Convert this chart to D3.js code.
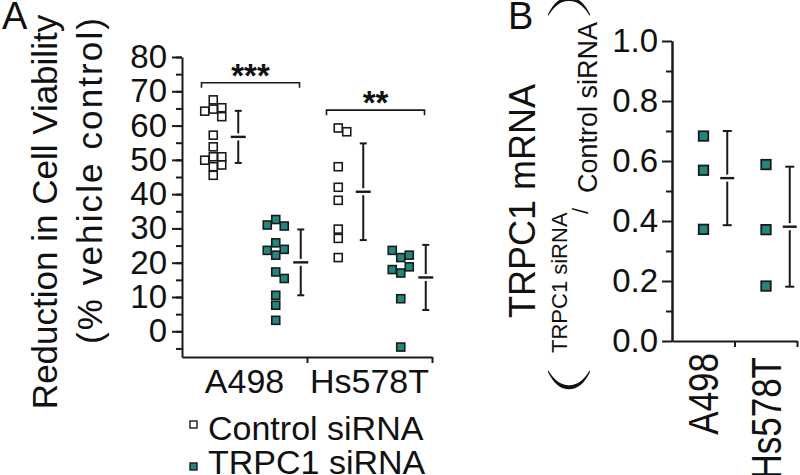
<!DOCTYPE html>
<html>
<head>
<meta charset="utf-8">
<script src="https://cdn.jsdelivr.net/npm/d3@7"></script>
<style>
body{margin:0;background:#fff}
svg{display:block;font-family:"Liberation Sans",Arial,sans-serif;fill:#111}
</style>
</head>
<body>
<script>
const cells=["A498","Hs578T"];
const groups=["Control siRNA","TRPC1 siRNA"];

// panel A: reduction in viability (% vehicle control), one value per replicate
const ctrlA498=[67.5,64.8,65.2,64.2,62.6,57.2,53.8,50.9,50.9,49.9,48.0,48.5,45.5];
const trpcA498=[32.6,30.7,31.0,25.8,23.9,23.6,22.2,17.3,15.4,10.5,7.6,3.2];
const ctrlHs=[59.3,58.2,48.0,42.0,38.2,29.8,27.1,21.5];
const trpcHs=[21.5,22.2,23.6,17.0,18.8,18.0,9.5,-4.6];
// mean and SD, per cell line
const meanCtrl=[56.7,40.7], sdCtrl=[7.6,14.1];
const meanTrpc=[20.1,15.7], sdTrpc=[9.6,9.5];
const stars=["***","**"], starLevel=[72.5,64.5];

// panel B: TRPC1 mRNA ratio
const mrnaA498=[0.684,0.570,0.373];
const mrnaHs=[0.589,0.372,0.184];
const meanMrna=[0.543,0.381], sdMrna=[0.157,0.200];

const W=800,H=475, ink="#1a1a1a", teal="#23877f";

const svg=d3.select("body").append("svg").attr("width",W).attr("height",H);

// simple column swarm: step sideways until the square fits
function swarm(vals,y,s){
  const placed=[];
  return vals.map(v=>{
    const py=y(v);
    for(const k of [0,1,-1,2,-2]){
      if(!placed.some(p=>p.k===k && Math.abs(p.y-py)<s)){placed.push({k:k,y:py});return {v:v,y:py,k:k};}
    }
  });
}

function errBar(g,x,y,m,sd,cap,mw){
  g.append("line").attr("x1",x).attr("x2",x).attr("y1",y(m+sd)).attr("y2",y(m-sd))
    .attr("stroke",ink).attr("stroke-width",2);
  [m+sd,m-sd].forEach(v=>g.append("line").attr("x1",x-cap/2).attr("x2",x+cap/2)
    .attr("y1",y(v)).attr("y2",y(v)).attr("stroke",ink).attr("stroke-width",2));
  g.append("line").attr("x1",x-mw/2).attr("x2",x+mw/2).attr("y1",y(m)).attr("y2",y(m))
    .attr("stroke","#fff").attr("stroke-width",7);
  g.append("line").attr("x1",x-mw/2).attr("x2",x+mw/2).attr("y1",y(m)).attr("y2",y(m))
    .attr("stroke",ink).attr("stroke-width",2.4);
}

function styleAxis(g){
  g.selectAll("path,line").attr("stroke",ink).attr("stroke-width",2);
  g.selectAll("text").attr("fill","#111");
}

// ---------- panel A ----------
const yA=d3.scaleLinear().domain([-7.5,80]).range([357,57]);
const xA=d3.scaleBand().domain(cells).range([182,432]);
const xG=d3.scaleBand().domain(groups).range([0,xA.bandwidth()]);

const A=svg.append("g");
A.append("g").attr("transform","translate(182,0)")
  .call(d3.axisLeft(yA).tickValues(d3.range(-5,81,5)).tickSize(6).tickSizeOuter(0).tickFormat(""))
  .call(styleAxis);
A.append("g").attr("transform","translate(182,0)")
  .call(d3.axisLeft(yA).tickValues(d3.range(0,81,10)).tickSize(10).tickSizeOuter(0).tickPadding(5))
  .call(styleAxis)
  .call(g=>g.select(".domain").remove())
  .selectAll("text").attr("font-size",33).attr("font-family","Liberation Sans");

const edgeA=d3.scaleLinear().domain([0,cells.length]).range(xA.range());
A.append("g").attr("transform","translate(0,357)")
  .call(d3.axisBottom(edgeA).tickValues([1,2]).tickSize(6).tickSizeOuter(0).tickFormat(""))
  .call(styleAxis);
A.append("g").attr("transform","translate(0,357)")
  .call(d3.axisBottom(xA).tickSize(0).tickPadding(12))
  .call(styleAxis)
  .call(g=>g.select(".domain").remove())
  .selectAll("text").attr("font-size",34).attr("font-family","Liberation Sans");

const seriesA=[[ctrlA498,ctrlHs],[trpcA498,trpcHs]];
const meansA=[meanCtrl,meanTrpc], sdsA=[sdCtrl,sdTrpc];
groups.forEach((grp,gi)=>{
  cells.forEach((c,ci)=>{
    const cx=xA(c)+xG(grp)+xG.bandwidth()/2;
    const pts=swarm(seriesA[gi][ci],yA,8);
    A.append("g").selectAll("rect").data(pts).join("rect")
      .attr("x",d=>cx+d.k*8.5-4).attr("y",d=>d.y-4)
      .attr("width",8).attr("height",8)
      .attr("fill",gi?teal:"#fff").attr("stroke",ink).attr("stroke-width",1.6);
    errBar(A,cx+25,yA,meansA[gi][ci],sdsA[gi][ci],7,15);
  });
});

// significance brackets
cells.forEach((c,ci)=>{
  const mid=xA(c)+xA.bandwidth()/2, by=yA(starLevel[ci]);
  const x0=mid-43, x1=mid+55;
  A.append("path").attr("d",`M${x0},${by+5}V${by}H${x1}V${by+5}`)
    .attr("fill","none").attr("stroke",ink).attr("stroke-width",1.6);
  A.append("text").attr("x",(x0+x1)/2).attr("y",by+4).attr("text-anchor","middle")
    .attr("font-size",33).attr("font-weight","bold").text(stars[ci]);
});

A.append("text").attr("transform","translate(57,212) rotate(-90)").attr("text-anchor","middle")
  .attr("font-size",35).text("Reduction in Cell Viability");
A.append("text").attr("transform","translate(102,181) rotate(-90)").attr("text-anchor","middle")
  .attr("font-size",35).attr("textLength",326).attr("lengthAdjust","spacing").text("(% vehicle control)");
A.append("text").attr("x",2).attr("y",29).attr("font-size",38).text("A");

// legend
groups.forEach((grp,i)=>{
  const ly=[440,474][i];
  A.append("rect").attr("x",190).attr("y",[421,463][i]).attr("width",7).attr("height",7)
    .attr("fill",i?teal:"#fff").attr("stroke",ink).attr("stroke-width",1.4);
  A.append("text").attr("x",208).attr("y",ly).attr("font-size",34).text(grp);
});

// ---------- panel B ----------
const yB=d3.scaleLinear().domain([0,1]).range([341,41]);
const xB=d3.scaleBand().domain(cells).range([672,797]);
const B=svg.append("g");
B.append("g").attr("transform","translate(672,0)")
  .call(d3.axisLeft(yB).tickValues(d3.range(1,10,2).map(d=>d/10)).tickSize(6).tickSizeOuter(0).tickFormat(""))
  .call(styleAxis);
B.append("g").attr("transform","translate(672,0)")
  .call(d3.axisLeft(yB).tickValues(d3.range(0,6).map(d=>d/5)).tickSize(10).tickSizeOuter(0).tickPadding(4).tickFormat(d3.format(".1f")))
  .call(styleAxis)
  .selectAll("text").attr("font-size",33).attr("font-family","Liberation Sans");
const edgeB=d3.scaleLinear().domain([0,cells.length]).range(xB.range());
B.append("g").attr("transform","translate(0,341)")
  .call(d3.axisBottom(edgeB).tickValues([1,2]).tickSize(6).tickSizeOuter(0).tickFormat(""))
  .call(styleAxis);
cells.forEach((c,ci)=>{
  const cx=xB(c)+xB.bandwidth()/2;
  B.append("text").attr("transform",`translate(${cx},${ci?357:353}) rotate(-90) scale(1,1.2)`)
    .attr("text-anchor","end").attr("dy","0.36em").attr("font-size",35).text(c);
  const pts=swarm([mrnaA498,mrnaHs][ci],yB,9);
  B.append("g").selectAll("rect").data(pts).join("rect")
    .attr("x",d=>cx+d.k*9.5-4.5).attr("y",d=>d.y-4.5)
    .attr("width",9.5).attr("height",9.5)
    .attr("fill",teal).attr("stroke",ink).attr("stroke-width",1.8);
  errBar(B,cx+24,yB,meanMrna[ci],sdMrna[ci],9,14);
});

B.append("text").attr("x",508).attr("y",29).attr("font-size",38).text("B");
B.append("text").attr("transform","translate(535,201) rotate(-90)").attr("text-anchor","middle")
  .attr("font-size",36).text("TRPC1 mRNA");
const t2=B.append("g").attr("transform","rotate(-90)");
// big thin brackets: stretched glyph, thinned with a white outline
[["(",-398],[")",-22]].forEach(([ch,x])=>t2.append("text")
  .attr("transform",`translate(${x},581) scale(2.2,1)`).attr("font-size",46)
  .attr("stroke","#fff").attr("stroke-width",2.2).text(ch));
t2.append("text").attr("x",-353).attr("y",567).attr("font-size",22).text("TRPC1 siRNA");
t2.append("text").attr("x",-214).attr("y",588).attr("font-size",22).text("/");
t2.append("text").attr("x",-193).attr("y",597).attr("font-size",27).text("Control siRNA");
</script>
</body>
</html>
